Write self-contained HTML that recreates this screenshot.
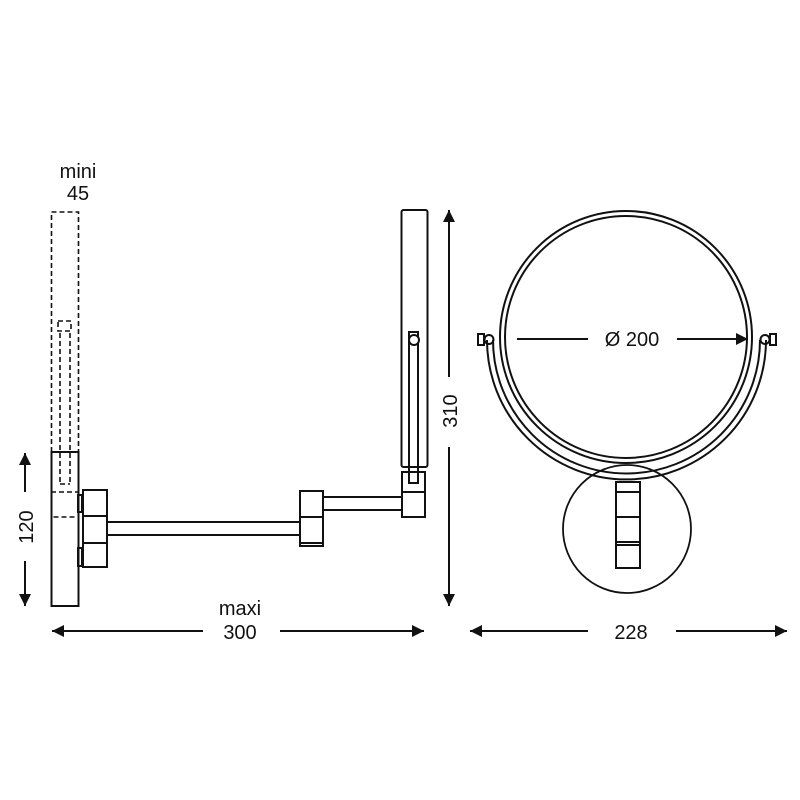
<!DOCTYPE html>
<html><head><style>body{margin:0;background:#fff}svg{display:block}text{font-family:"Liberation Sans",sans-serif;font-size:20px;fill:#111}</style></head>
<body>
<svg width="800" height="800" viewBox="0 0 800 800" xmlns="http://www.w3.org/2000/svg">
<defs>
<marker id="a" viewBox="0 0 10 10" refX="10" refY="5" markerWidth="13" markerHeight="12" markerUnits="userSpaceOnUse" orient="auto-start-reverse"><path d="M0,0L10,5L0,10z" fill="#111"/></marker>
</defs>
<g fill="none" stroke="#111" stroke-width="2">
<g stroke-dasharray="5,3" stroke-width="1.6">
<rect x="51.5" y="212" width="27" height="305"/>
<line x1="51" y1="492" x2="78" y2="492"/>
<rect x="58" y="321" width="13" height="10"/>
<line x1="60" y1="333" x2="60" y2="484"/>
<line x1="70" y1="333" x2="70" y2="484"/>
<line x1="60" y1="484" x2="70" y2="484"/>
</g>
<rect x="51.5" y="452" width="27" height="154"/>
<rect x="78" y="495" width="4" height="17"/>
<rect x="78" y="548" width="4" height="18"/>
<rect x="83" y="490" width="24" height="26"/>
<rect x="83" y="516" width="24" height="27"/>
<rect x="83" y="543" width="24" height="24"/>
<rect x="107" y="522" width="193" height="13"/>
<rect x="300" y="491" width="23" height="26"/>
<rect x="300" y="517" width="23" height="29"/>
<line x1="300" y1="543" x2="323" y2="543"/>
<rect x="323" y="497" width="79" height="13"/>
<rect x="402" y="472" width="23" height="45"/>
<line x1="402" y1="492" x2="425" y2="492"/>
<rect x="401.5" y="210" width="26" height="257" rx="2"/>
<rect x="409" y="332" width="9" height="151"/>
<circle cx="414" cy="340" r="5" fill="#fff"/>
<line x1="25" y1="492" x2="25" y2="453" marker-end="url(#a)"/>
<line x1="25" y1="561" x2="25" y2="606" marker-end="url(#a)"/>
<line x1="449" y1="377" x2="449" y2="210" marker-end="url(#a)"/>
<line x1="449" y1="447" x2="449" y2="606" marker-end="url(#a)"/>
<line x1="203" y1="631" x2="52" y2="631" marker-end="url(#a)"/>
<line x1="280" y1="631" x2="424" y2="631" marker-end="url(#a)"/>
<line x1="588" y1="631" x2="470" y2="631" marker-end="url(#a)"/>
<line x1="676" y1="631" x2="787" y2="631" marker-end="url(#a)"/>
<circle cx="626" cy="337" r="126"/>
<circle cx="626" cy="337" r="121"/>
<path d="M487,340 A139.5,139.5 0 0 0 766,340"/>
<path d="M493,340 A133.5,133.5 0 0 0 760,340"/>
<circle cx="627" cy="529" r="64" stroke-width="1.8"/>
<rect x="616" y="482" width="24" height="86" fill="#fff"/>
<line x1="616" y1="492" x2="640" y2="492"/>
<line x1="616" y1="517" x2="640" y2="517"/>
<line x1="616" y1="542" x2="640" y2="542"/>
<line x1="616" y1="545" x2="640" y2="545"/>
<rect x="478" y="334" width="6" height="11"/>
<circle cx="489" cy="339.5" r="4.5"/>
<rect x="770" y="334" width="6" height="11"/>
<circle cx="765" cy="339.5" r="4.5"/>
<line x1="517" y1="339" x2="588" y2="339"/>
<line x1="677" y1="339" x2="748" y2="339" marker-end="url(#a)"/>
</g>
<text x="78" y="178" text-anchor="middle">mini</text>
<text x="78" y="200" text-anchor="middle">45</text>
<text x="240" y="615" text-anchor="middle">maxi</text>
<text x="240" y="639" text-anchor="middle">300</text>
<text x="631" y="639" text-anchor="middle">228</text>
<text x="632" y="346" text-anchor="middle">Ø 200</text>
<text transform="translate(33,527) rotate(-90)" text-anchor="middle">120</text>
<text transform="translate(457,411) rotate(-90)" text-anchor="middle">310</text>
</svg>
</body></html>
